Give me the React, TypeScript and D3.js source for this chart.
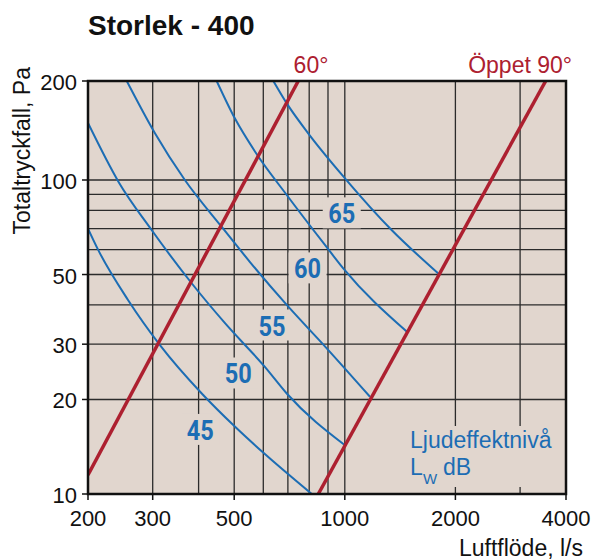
import React from 'react';
import * as d3 from 'd3';

// axes
const xTicks = [200, 300, 500, 1000, 2000, 4000];
const yTicks = [10, 20, 30, 50, 100, 200];
const xGrid = [300, 400, 500, 600, 700, 800, 900, 1000, 2000, 3000];
const yGrid = [20, 30, 40, 50, 60, 70, 80, 90, 100];

// damper positions (flow l/s, pressure Pa)
const deg60: [number, number][] = [[200, 11.5], [747, 200]];
const open90: [number, number][] = [[847, 10], [3522, 200]];

// sound power level curves
const lw45: [number, number][] = [[200, 70], [213, 60], [257, 41.5], [314, 29.8], [408, 20.9], [502, 16.4], [606, 13.4], [813, 10]];
const lw50: [number, number][] = [[200, 149], [242, 98.8], [298, 69.3], [383, 46.9], [472, 35], [606, 25.4], [695, 20.9], [1001, 14.3]];
const lw55: [number, number][] = [[255, 200], [304, 139], [367, 100], [462, 71], [552, 54.8], [695, 40], [893, 29.1], [1171, 20.4]];
const lw60: [number, number][] = [[448, 200], [502, 154], [573, 120.8], [695, 89.6], [883, 62.1], [989, 52.4], [1474, 32.9]];
const lw65: [number, number][] = [[639, 200], [695, 171], [795, 138.7], [1001, 101.2], [1341, 69.3], [1797, 50.4]];

const lwLabels = [
  { text: '45', flow: 404, pa: 16.0 },
  { text: '50', flow: 513, pa: 24.2 },
  { text: '55', flow: 634, pa: 34.4 },
  { text: '60', flow: 792, pa: 52.3 },
  { text: '65', flow: 981, pa: 78.3 },
];

const W = 593;
const H = 560;
const left = 88, right = 566, top = 81, bottom = 494;

const BLUE = '#1c6db4';
const RED = '#ad2030';
const BG = '#e1d6ce';
const GRID = '#2b2b2b';
const FONT = '"Liberation Sans", Arial, Helvetica, sans-serif';

export default function App() {
  const x = d3.scaleLog().domain([200, 4000]).range([left, right]);
  // the printed chart is slightly uneven above 100 Pa
  const y = d3.scaleLog().domain([10, 100, 200]).range([bottom, 180, top]);

  const line = d3.line<[number, number]>()
    .x(d => x(d[0]))
    .y(d => y(d[1]))
    .curve(d3.curveMonotoneX);
  const straight = d3.line<[number, number]>()
    .x(d => x(d[0]))
    .y(d => y(d[1]));

  const curves = [lw45, lw50, lw55, lw60, lw65];

  return (
    <svg width={W} height={H} style={{ position: 'absolute', left: 0, top: 0 }}>
      <defs>
        <clipPath id="plot">
          <rect x={left} y={top} width={right - left} height={bottom - top} />
        </clipPath>
      </defs>

      <text x={88} y={35} fontFamily={FONT} fontSize={28} fontWeight="bold" fill="#111">Storlek - 400</text>

      <rect x={left} y={top} width={right - left} height={bottom - top} fill={BG} />

      {xGrid.map(v => (
        <line key={'gx' + v} x1={x(v)} x2={x(v)} y1={top} y2={bottom} stroke={GRID} strokeWidth={1.3} />
      ))}
      {yGrid.map(v => (
        <line key={'gy' + v} x1={left} x2={right} y1={y(v)} y2={y(v)} stroke={GRID} strokeWidth={1.3} />
      ))}

      {/* label backgrounds break the grid */}
      {lwLabels.map(l => (
        <rect key={'bg' + l.text} x={x(l.flow) - 19} y={y(l.pa) - 16} width={38} height={31} fill={BG} />
      ))}
      <rect x={405} y={426} width={152} height={61} fill={BG} />

      <g clipPath="url(#plot)" fill="none">
        {curves.map((c, i) => (
          <path key={'lw' + i} d={line(c) || ''} stroke={BLUE} strokeWidth={2} />
        ))}
        <path d={straight(deg60) || ''} stroke={RED} strokeWidth={3.5} />
        <path d={straight(open90) || ''} stroke={RED} strokeWidth={3.5} />
      </g>

      {lwLabels.map(l => (
        <text key={'t' + l.text} x={x(l.flow)} y={y(l.pa) + 10} textAnchor="middle"
          fontFamily="Roboto, sans-serif" fontWeight="bold" fontSize={27}
          textLength={27} lengthAdjust="spacingAndGlyphs" fill={BLUE}>{l.text}</text>
      ))}

      <text x={410} y={448} fontFamily={FONT} fontSize={23} fill={BLUE}>Ljudeffektnivå</text>
      <text x={410} y={475} fontFamily={FONT} fontSize={23} fill={BLUE}>L</text>
      <text x={423} y={484} fontFamily={FONT} fontSize={15} fill={BLUE}>W</text>
      <text x={443} y={475} fontFamily={FONT} fontSize={23} fill={BLUE}>dB</text>

      <rect x={left} y={top} width={right - left} height={bottom - top} fill="none" stroke="#111" strokeWidth={2.5} />

      {yTicks.map(v => (
        <g key={'yt' + v}>
          <line x1={left - 6} x2={left} y1={y(v)} y2={y(v)} stroke="#111" strokeWidth={1.5} />
          <text x={77} y={y(v) + 9} textAnchor="end" fontFamily={FONT} fontSize={22} fill="#111">{v}</text>
        </g>
      ))}
      {xTicks.map(v => (
        <g key={'xt' + v}>
          <line x1={x(v)} x2={x(v)} y1={bottom} y2={bottom + 6} stroke="#111" strokeWidth={1.5} />
          <text x={x(v)} y={526} textAnchor="middle" fontFamily={FONT} fontSize={22} fill="#111">{v}</text>
        </g>
      ))}

      <text x={583} y={556} textAnchor="end" fontFamily={FONT} fontSize={23} fill="#111">Luftflöde, l/s</text>
      <text transform="translate(30,67) rotate(-90)" textAnchor="end" fontFamily={FONT} fontSize={23} fill="#111">Totaltryckfall, Pa</text>

      <text x={311} y={73} textAnchor="middle" fontFamily={FONT} fontSize={23} fill={RED}>60°</text>
      <text x={572} y={73} textAnchor="end" fontFamily={FONT} fontSize={23} fill={RED}>Öppet 90°</text>
    </svg>
  );
}
